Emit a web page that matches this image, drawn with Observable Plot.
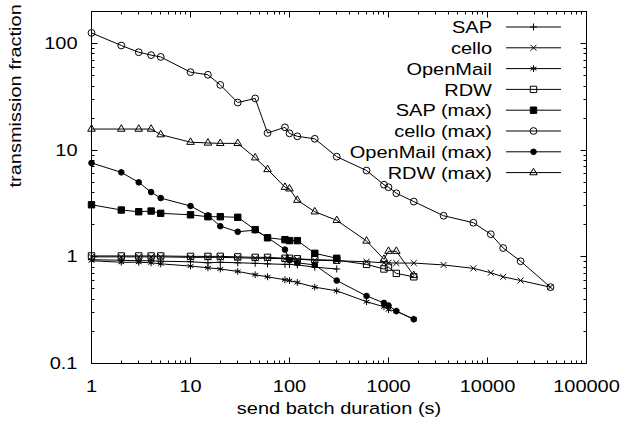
<!DOCTYPE html>
<html>
<head>
<meta charset="utf-8">
<script src="https://cdn.jsdelivr.net/npm/d3@7"></script>
<script src="https://cdn.jsdelivr.net/npm/@observablehq/plot@0.6"></script>
<style>
  html, body { margin: 0; padding: 0; background: #fff; }
  #chart svg { display: block; }
</style>
</head>
<body>
<div id="chart"></div>
<script>
// ---- data ----
const durations = [1, 2, 3, 4, 5, 10, 15, 20, 30, 45, 60, 90, 100, 120, 180, 300, 600, 900, 1000, 1200, 1800];
const durationsShort = [1, 2, 3, 4, 5, 10, 15, 20, 30, 45, 60, 90, 100, 120, 180, 300];
const durationsCello = [1, 2, 3, 4, 5, 10, 15, 20, 30, 45, 60, 90, 100, 120, 180, 300, 600, 900, 1000, 1200, 1800, 3600, 7200, 10800, 14400, 21600, 43200];

const sapValues      = [0.94, 0.93, 0.92, 0.92, 0.91, 0.90, 0.88, 0.89, 0.88, 0.87, 0.86, 0.85, 0.85, 0.84, 0.80, 0.77];
const celloValues    = [1.0, 1.0, 1.0, 1.0, 1.0, 0.99, 0.99, 0.99, 0.98, 0.97, 0.97, 0.96, 0.95, 0.95, 0.93, 0.92, 0.90, 0.88, 0.88, 0.875, 0.875, 0.84, 0.78, 0.71, 0.65, 0.60, 0.52];
const openMailValues = [0.92, 0.89, 0.89, 0.88, 0.86, 0.82, 0.79, 0.77, 0.73, 0.68, 0.65, 0.61, 0.60, 0.575, 0.52, 0.48, 0.38, 0.34, 0.32, 0.31, 0.26];
const rdwValues      = [1.02, 1.02, 1.02, 1.02, 1.02, 1.01, 1.01, 1.01, 1.0, 0.99, 0.99, 0.97, 0.97, 0.96, 0.94, 0.93, 0.85, 0.77, 0.80, 0.70, 0.65];
const sapMaxValues   = [3.08, 2.75, 2.65, 2.69, 2.56, 2.48, 2.38, 2.38, 2.35, 1.80, 1.51, 1.45, 1.42, 1.42, 1.08, 0.97];
const celloMaxValues = [126, 96, 83, 78, 75, 54, 51, 41, 28, 30.6, 14.5, 16.4, 14.4, 13.5, 12.8, 8.7, 6.45, 4.75, 4.5, 3.95, 3.3, 2.43, 2.09, 1.63, 1.21, 0.91, 0.52];
const openMailMaxValues = [7.6, 6.2, 5.0, 4.05, 3.56, 3.0, 2.45, 1.94, 1.72, 1.78, 1.52, 1.17, 0.93, 0.88, 0.84, 0.60, 0.43, 0.37, 0.35, 0.31, 0.26];
const rdwMaxValues   = [15.8, 15.8, 15.8, 15.8, 14.0, 11.9, 11.7, 11.6, 11.6, 8.5, 6.6, 4.5, 4.35, 3.4, 2.65, 2.2, 1.41, 0.95, 1.13, 1.13, 0.67];

const seriesNames = ["SAP", "cello", "OpenMail", "RDW", "SAP (max)", "cello (max)", "OpenMail (max)", "RDW (max)"];
const xTickLabels = [1, 10, 100, 1000, 10000, 100000];
const yTickLabels = [0.1, 1, 10, 100];
const xTitle = "send batch duration (s)";
const yTitle = "transmission fraction";

// ---- marker style per series ----
const styles = [
  {symbol: "plus",     filled: false, r: 2.4},
  {symbol: "times",    filled: false, r: 2.8},
  {symbol: "asterisk", filled: false, r: 3.2},
  {symbol: "square",   filled: false, r: 3.6},
  {symbol: "square",   filled: true,  r: 3.6},
  {symbol: "circle",   filled: false, r: 3.4},
  {symbol: "circle",   filled: true,  r: 2.8},
  {symbol: "triangle", filled: false, r: 2.8}
];

const xsFor = [durationsShort, durationsCello, durations, durations, durationsShort, durationsCello, durations, durations];
const ysFor = [sapValues, celloValues, openMailValues, rdwValues, sapMaxValues, celloMaxValues, openMailMaxValues, rdwMaxValues];
const tables = seriesNames.map((name, k) => xsFor[k].map((x, i) => ({series: name, x, y: ysFor[k][i]})));

const FONT = "Liberation Sans, Arial, Helvetica, sans-serif";
const FS = 20;          // font size (width)
const SQUASH = 0.86;    // vertical squash of the glyphs, as in the reference

const marks = [
  Plot.axisX(xTickLabels, {tickSize: 0, tickPadding: 16, tickFormat: d => String(d), label: null, fontSize: FS, fill: "black"}),
  Plot.axisY(yTickLabels, {tickSize: 0, tickPadding: 14, tickFormat: d => String(d), label: null, fontSize: FS, fill: "black"})
];
tables.forEach((t, k) => {
  const s = styles[k];
  marks.push(Plot.line(t, {x: "x", y: "y", stroke: "black", strokeWidth: 1}));
  marks.push(Plot.dot(t, {x: "x", y: "y", symbol: () => s.symbol, r: s.r,
    fill: s.filled ? "black" : "none", stroke: "black", strokeWidth: 1}));
});
marks.push(Plot.frame({stroke: "black", strokeWidth: 1}));
marks.push(Plot.text([xTitle], {frameAnchor: "bottom", dy: 50, text: d => d, fontSize: FS, fill: "black"}));
marks.push(Plot.text([yTitle], {frameAnchor: "left", dx: -76, rotate: -90, text: d => d, fontSize: FS, fill: "black"}));

const plot = Plot.plot({
  width: 621,
  height: 421,
  marginLeft: 91,
  marginRight: 35,
  marginTop: 11,
  marginBottom: 58,
  style: {fontFamily: FONT, fontSize: FS + "px", background: "white", color: "black"},
  x: {type: "log", domain: [1, 100000]},
  y: {type: "log", domain: [0.1, 200]},
  marks
});
document.getElementById("chart").appendChild(plot);

const svg = d3.select(plot);
// squash the glyphs vertically around each text's own anchor
svg.selectAll("text").each(function () {
  const t = this.getAttribute("transform");
  if (t) this.setAttribute("transform", t + ` scale(1,${SQUASH})`);
  else {
    const x = +this.getAttribute("x") || 0, y = +this.getAttribute("y") || 0;
    this.removeAttribute("x"); this.removeAttribute("y");
    this.setAttribute("transform", `translate(${x},${y}) scale(1,${SQUASH})`);
  }
});

// ---- inward ticks on all four sides, using the plot's own scales ----
const sx = plot.scale("x"), sy = plot.scale("y");
const x0 = sx.apply(1), x1 = sx.apply(100000);
const y0 = sy.apply(0.1), y1 = sy.apply(200);
const tg = svg.append("g").attr("stroke", "black").attr("stroke-width", 1).attr("transform", "translate(0.5,0.5)");
function decadeTicks(lo, hi) {
  const out = [];
  for (let e = Math.floor(Math.log10(lo)); e <= Math.ceil(Math.log10(hi)); e++) {
    for (let m = 1; m <= 9; m++) {
      const v = m * Math.pow(10, e);
      if (v >= lo * 0.999 && v <= hi * 1.001) out.push({v: +v.toPrecision(6), major: m === 1});
    }
  }
  return out;
}
decadeTicks(1, 100000).forEach(({v, major}) => {
  const px = Math.round(sx.apply(v)), len = major ? 6 : 3;
  tg.append("line").attr("x1", px).attr("x2", px).attr("y1", y0).attr("y2", y0 - len);
  tg.append("line").attr("x1", px).attr("x2", px).attr("y1", y1).attr("y2", y1 + len);
});
decadeTicks(0.1, 200).forEach(({v, major}) => {
  const py = Math.round(sy.apply(v)), len = major ? 6 : 3;
  tg.append("line").attr("y1", py).attr("y2", py).attr("x1", x0).attr("x2", x0 + len);
  tg.append("line").attr("y1", py).attr("y2", py).attr("x1", x1).attr("x2", x1 - len);
});

// ---- legend (top right, inside the frame) ----
const symbolOf = {plus: d3.symbolPlus, times: d3.symbolTimes, asterisk: d3.symbolAsterisk,
  square: d3.symbolSquare, circle: d3.symbolCircle, triangle: d3.symbolTriangle};
const lg = svg.append("g").attr("font-family", FONT).attr("font-size", FS);
const textRight = x1 - 94, lineL = x1 - 80, lineR = x1 - 25, markX = (lineL + lineR) / 2;
seriesNames.forEach((name, i) => {
  const yy = y1 + 16 + i * 20.8;
  lg.append("text").attr("transform", `translate(${textRight},${yy}) scale(1,${SQUASH})`)
    .attr("text-anchor", "end").attr("dy", "0.36em").attr("fill", "black").text(name);
  lg.append("line").attr("x1", lineL).attr("x2", lineR).attr("y1", yy).attr("y2", yy)
    .attr("stroke", "black").attr("stroke-width", 1);
  const s = styles[i];
  lg.append("path").attr("transform", `translate(${markX},${yy})`)
    .attr("d", d3.symbol(symbolOf[s.symbol], s.r * s.r * Math.PI)())
    .attr("fill", s.filled ? "black" : "none").attr("stroke", "black").attr("stroke-width", 1);
});
</script>
</body>
</html>
